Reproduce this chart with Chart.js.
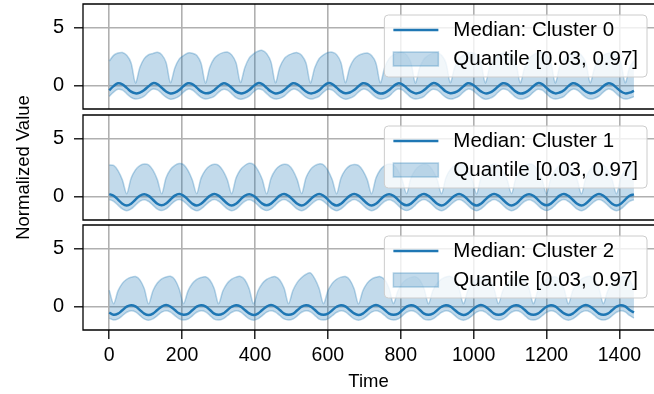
<!DOCTYPE html>
<html>
<head>
<meta charset="utf-8">
<script src="https://cdn.jsdelivr.net/npm/chart.js@4.4.1/dist/chart.umd.min.js"></script>
<style>
  html, body { margin: 0; padding: 0; background: #fff; }
  #wrap { position: relative; width: 654px; height: 394px; }
  #wrap canvas { position: absolute; left: 0; top: 0; }
</style>
</head>
<body>
<div id="wrap">
  <canvas id="c0" width="654" height="394"></canvas>
  <canvas id="c1" width="654" height="394"></canvas>
  <canvas id="c2" width="654" height="394"></canvas>
</div>
<script>
/* ── data (one row = one ~96 min cycle) ── */

const TIME = [
  0, 12, 24, 36, 48, 60, 72, 84,
  96, 108, 120, 132, 144, 156, 168, 180,
  192, 204, 216, 228, 240, 252, 264, 276,
  288, 300, 312, 324, 336, 348, 360, 372,
  384, 396, 408, 420, 432, 444, 456, 468,
  480, 492, 504, 516, 528, 540, 552, 564,
  576, 588, 600, 612, 624, 636, 648, 660,
  672, 684, 696, 708, 720, 732, 744, 756,
  768, 780, 792, 804, 816, 828, 840, 852,
  864, 876, 888, 900, 912, 924, 936, 948,
  960, 972, 984, 996, 1008, 1020, 1032, 1044,
  1056, 1068, 1080, 1092, 1104, 1116, 1128, 1140,
  1152, 1164, 1176, 1188, 1200, 1212, 1224, 1236,
  1248, 1260, 1272, 1284, 1296, 1308, 1320, 1332,
  1344, 1356, 1368, 1380, 1392, 1404, 1416, 1428,
  1440,
];

const X_TICKS = [0, 200, 400, 600, 800, 1000, 1200, 1400];
const Y_TICKS = [0, 5];
const CLUSTERS = ['Median: Cluster 0', 'Median: Cluster 1', 'Median: Cluster 2'];
const QUANT_LABEL = 'Quantile [0.03, 0.97]';

// cluster 0
const C0_MED = [
  -0.40, -0.04, 0.20, 0.12, -0.19, -0.51, -0.66, -0.59,
  -0.37, -0.05, 0.21, 0.13, -0.18, -0.50, -0.67, -0.60,
  -0.38, -0.03, 0.20, 0.14, -0.17, -0.49, -0.65, -0.61,
  -0.39, -0.06, 0.19, 0.12, -0.18, -0.51, -0.66, -0.59,
  -0.37, -0.04, 0.21, 0.13, -0.19, -0.50, -0.67, -0.60,
  -0.38, -0.05, 0.20, 0.12, -0.18, -0.50, -0.66, -0.60,
  -0.39, -0.04, 0.21, 0.14, -0.17, -0.49, -0.65, -0.59,
  -0.38, -0.05, 0.20, 0.13, -0.18, -0.51, -0.67, -0.61,
  -0.37, -0.04, 0.19, 0.12, -0.19, -0.50, -0.66, -0.60,
  -0.38, -0.05, 0.21, 0.13, -0.18, -0.50, -0.65, -0.59,
  -0.39, -0.06, 0.20, 0.12, -0.17, -0.49, -0.66, -0.60,
  -0.37, -0.04, 0.20, 0.14, -0.18, -0.51, -0.67, -0.61,
  -0.38, -0.05, 0.21, 0.13, -0.19, -0.50, -0.66, -0.59,
  -0.39, -0.04, 0.20, 0.12, -0.18, -0.50, -0.65, -0.60,
  -0.38, -0.05, 0.19, 0.13, -0.17, -0.49, -0.66, -0.60,
  -0.44,
];
const C0_LO = [
  -0.92, -0.56, -0.31, -0.38, -0.69, -1.01, -1.15, -1.08,
  -0.89, -0.54, -0.29, -0.36, -0.67, -0.99, -1.16, -1.09,
  -0.90, -0.55, -0.30, -0.37, -0.68, -1.00, -1.14, -1.07,
  -0.91, -0.57, -0.32, -0.38, -0.69, -1.02, -1.16, -1.08,
  -0.89, -0.54, -0.29, -0.36, -0.68, -1.00, -1.15, -1.09,
  -0.90, -0.55, -0.30, -0.37, -0.67, -0.99, -1.14, -1.07,
  -0.91, -0.56, -0.31, -0.38, -0.69, -1.01, -1.16, -1.08,
  -0.89, -0.55, -0.30, -0.37, -0.68, -1.00, -1.15, -1.09,
  -0.90, -0.54, -0.29, -0.36, -0.67, -1.00, -1.14, -1.08,
  -0.91, -0.56, -0.31, -0.38, -0.69, -1.01, -1.15, -1.07,
  -0.90, -0.55, -0.30, -0.37, -0.68, -0.99, -1.16, -1.09,
  -0.89, -0.54, -0.29, -0.36, -0.67, -1.00, -1.15, -1.08,
  -0.90, -0.56, -0.31, -0.38, -0.69, -1.02, -1.14, -1.07,
  -0.91, -0.55, -0.30, -0.37, -0.68, -1.00, -1.15, -1.08,
  -0.90, -0.55, -0.30, -0.37, -0.68, -1.00, -1.15, -1.08,
  -0.94,
];
const C0_HI = [
  2.10, 2.60, 2.80, 2.84, 2.60, 1.95, 0.24, 1.55,
  2.32, 2.65, 2.76, 2.86, 2.66, 1.98, 0.26, 1.52,
  2.28, 2.58, 2.80, 2.78, 2.60, 1.92, 0.23, 1.58,
  2.33, 2.66, 2.83, 2.88, 2.64, 1.96, 0.27, 1.54,
  2.36, 2.72, 2.95, 3.02, 2.75, 2.02, 0.25, 1.57,
  2.30, 2.61, 2.77, 2.83, 2.61, 1.94, 0.24, 1.53,
  2.31, 2.64, 2.84, 2.87, 2.66, 1.97, 0.26, 1.56,
  2.27, 2.59, 2.74, 2.80, 2.58, 1.93, 0.25, 1.55,
  2.32, 2.63, 2.79, 2.85, 2.63, 1.96, 0.23, 1.54,
  2.29, 2.60, 2.77, 2.81, 2.60, 1.94, 0.26, 1.56,
  2.31, 2.62, 2.80, 2.83, 2.62, 1.95, 0.24, 1.55,
  2.28, 2.60, 2.76, 2.80, 2.59, 1.93, 0.25, 1.53,
  2.32, 2.64, 2.81, 2.85, 2.64, 1.97, 0.24, 1.57,
  2.30, 2.61, 2.78, 2.82, 2.61, 1.95, 0.26, 1.54,
  2.29, 2.60, 2.77, 2.81, 2.60, 1.94, 0.25, 1.55,
  2.15,
];

// cluster 1
const C1_MED = [
  0.22, 0.08, -0.25, -0.60, -0.75, -0.60, -0.25, 0.08,
  0.21, 0.07, -0.26, -0.61, -0.74, -0.59, -0.24, 0.09,
  0.23, 0.08, -0.25, -0.60, -0.76, -0.60, -0.26, 0.07,
  0.22, 0.09, -0.24, -0.59, -0.75, -0.61, -0.25, 0.08,
  0.21, 0.08, -0.25, -0.60, -0.74, -0.60, -0.25, 0.09,
  0.22, 0.07, -0.26, -0.61, -0.75, -0.59, -0.24, 0.08,
  0.23, 0.08, -0.25, -0.60, -0.76, -0.60, -0.25, 0.07,
  0.22, 0.09, -0.24, -0.59, -0.75, -0.61, -0.26, 0.08,
  0.21, 0.08, -0.25, -0.60, -0.74, -0.60, -0.25, 0.09,
  0.22, 0.07, -0.26, -0.61, -0.75, -0.59, -0.24, 0.08,
  0.23, 0.08, -0.25, -0.60, -0.76, -0.60, -0.25, 0.07,
  0.22, 0.09, -0.24, -0.59, -0.75, -0.61, -0.26, 0.08,
  0.21, 0.08, -0.25, -0.60, -0.74, -0.60, -0.25, 0.09,
  0.22, 0.07, -0.26, -0.61, -0.75, -0.59, -0.24, 0.08,
  0.23, 0.08, -0.25, -0.60, -0.75, -0.60, -0.25, 0.08,
  0.20,
];
const C1_LO = [
  -0.25, -0.40, -0.72, -1.05, -1.20, -1.05, -0.72, -0.40,
  -0.26, -0.41, -0.73, -1.06, -1.19, -1.04, -0.71, -0.39,
  -0.24, -0.40, -0.72, -1.05, -1.21, -1.05, -0.73, -0.41,
  -0.25, -0.39, -0.71, -1.04, -1.20, -1.06, -0.72, -0.40,
  -0.26, -0.40, -0.72, -1.05, -1.19, -1.05, -0.72, -0.39,
  -0.25, -0.41, -0.73, -1.06, -1.20, -1.04, -0.71, -0.40,
  -0.24, -0.40, -0.72, -1.05, -1.21, -1.05, -0.72, -0.41,
  -0.25, -0.39, -0.71, -1.04, -1.20, -1.06, -0.73, -0.40,
  -0.26, -0.40, -0.72, -1.05, -1.19, -1.05, -0.72, -0.39,
  -0.25, -0.41, -0.73, -1.06, -1.20, -1.04, -0.71, -0.40,
  -0.24, -0.40, -0.72, -1.05, -1.21, -1.05, -0.72, -0.41,
  -0.25, -0.39, -0.71, -1.04, -1.20, -1.06, -0.73, -0.40,
  -0.26, -0.40, -0.72, -1.05, -1.19, -1.05, -0.72, -0.39,
  -0.25, -0.41, -0.73, -1.06, -1.20, -1.04, -0.71, -0.40,
  -0.24, -0.40, -0.72, -1.05, -1.20, -1.05, -0.72, -0.40,
  -0.27,
];
const C1_HI = [
  2.72, 2.68, 2.24, 1.44, 0.25, 1.58, 2.30, 2.66,
  2.80, 2.72, 2.27, 1.46, 0.24, 1.62, 2.33, 2.68,
  2.84, 2.74, 2.26, 1.43, 0.26, 1.59, 2.28, 2.63,
  2.77, 2.69, 2.23, 1.45, 0.25, 1.61, 2.31, 2.67,
  2.86, 2.76, 2.28, 1.47, 0.24, 1.58, 2.29, 2.64,
  2.78, 2.70, 2.25, 1.44, 0.26, 1.62, 2.32, 2.66,
  2.81, 2.72, 2.26, 1.45, 0.25, 1.60, 2.30, 2.65,
  2.76, 2.68, 2.24, 1.46, 0.24, 1.61, 2.31, 2.67,
  2.80, 2.71, 2.25, 1.44, 0.26, 1.59, 2.29, 2.64,
  2.77, 2.69, 2.23, 1.45, 0.25, 1.62, 2.32, 2.66,
  2.82, 2.73, 2.27, 1.46, 0.24, 1.60, 2.30, 2.65,
  2.78, 2.70, 2.25, 1.44, 0.26, 1.61, 2.31, 2.67,
  2.80, 2.71, 2.24, 1.45, 0.25, 1.59, 2.29, 2.64,
  2.77, 2.69, 2.26, 1.46, 0.24, 1.62, 2.32, 2.66,
  2.79, 2.70, 2.25, 1.45, 0.25, 1.60, 2.30, 2.65,
  2.75,
];

// cluster 2
const C2_MED = [
  -0.50, -0.70, -0.60, -0.30, 0.00, 0.13, 0.02, -0.28,
  -0.59, -0.71, -0.59, -0.29, 0.01, 0.14, 0.01, -0.29,
  -0.58, -0.69, -0.61, -0.31, 0.00, 0.12, 0.03, -0.27,
  -0.60, -0.70, -0.60, -0.30, -0.01, 0.13, 0.02, -0.28,
  -0.58, -0.71, -0.59, -0.29, 0.01, 0.14, 0.01, -0.29,
  -0.59, -0.69, -0.61, -0.31, 0.00, 0.12, 0.03, -0.27,
  -0.60, -0.70, -0.60, -0.30, -0.01, 0.13, 0.02, -0.28,
  -0.58, -0.71, -0.59, -0.29, 0.01, 0.14, 0.01, -0.29,
  -0.59, -0.69, -0.61, -0.31, 0.00, 0.12, 0.03, -0.27,
  -0.60, -0.70, -0.60, -0.30, -0.01, 0.13, 0.02, -0.28,
  -0.58, -0.71, -0.59, -0.29, 0.01, 0.14, 0.01, -0.29,
  -0.59, -0.69, -0.61, -0.31, 0.00, 0.12, 0.03, -0.27,
  -0.60, -0.70, -0.60, -0.30, -0.01, 0.13, 0.02, -0.28,
  -0.58, -0.71, -0.59, -0.29, 0.01, 0.14, 0.01, -0.29,
  -0.59, -0.70, -0.60, -0.30, 0.00, 0.13, 0.02, -0.28,
  -0.50,
];
const C2_LO = [
  -0.98, -1.15, -1.05, -0.78, -0.48, -0.35, -0.45, -0.75,
  -1.05, -1.16, -1.04, -0.77, -0.47, -0.34, -0.46, -0.76,
  -1.04, -1.14, -1.06, -0.79, -0.48, -0.36, -0.44, -0.74,
  -1.06, -1.15, -1.05, -0.78, -0.49, -0.35, -0.45, -0.75,
  -1.04, -1.16, -1.04, -0.77, -0.47, -0.34, -0.46, -0.76,
  -1.05, -1.14, -1.06, -0.79, -0.48, -0.36, -0.44, -0.74,
  -1.06, -1.15, -1.05, -0.78, -0.49, -0.35, -0.45, -0.75,
  -1.04, -1.16, -1.04, -0.77, -0.47, -0.34, -0.46, -0.76,
  -1.05, -1.14, -1.06, -0.79, -0.48, -0.36, -0.44, -0.74,
  -1.06, -1.15, -1.05, -0.78, -0.49, -0.35, -0.45, -0.75,
  -1.04, -1.16, -1.04, -0.77, -0.47, -0.34, -0.46, -0.76,
  -1.05, -1.14, -1.06, -0.79, -0.48, -0.36, -0.44, -0.74,
  -1.06, -1.15, -1.05, -0.78, -0.49, -0.35, -0.45, -0.75,
  -1.04, -1.16, -1.04, -0.77, -0.47, -0.34, -0.46, -0.76,
  -1.05, -1.15, -1.05, -0.78, -0.48, -0.35, -0.45, -0.75,
  -0.98,
];
const C2_HI = [
  1.40, 0.25, 1.35, 2.00, 2.35, 2.52, 2.58, 2.30,
  1.55, 0.24, 1.37, 2.03, 2.38, 2.55, 2.60, 2.32,
  1.52, 0.26, 1.33, 1.98, 2.33, 2.50, 2.56, 2.28,
  1.56, 0.25, 1.36, 2.01, 2.36, 2.53, 2.59, 2.31,
  1.54, 0.24, 1.34, 1.99, 2.34, 2.51, 2.57, 2.29,
  1.57, 0.26, 1.38, 2.08, 2.50, 2.78, 2.90, 2.40,
  1.55, 0.25, 1.35, 2.00, 2.35, 2.53, 2.58, 2.30,
  1.53, 0.24, 1.36, 2.02, 2.37, 2.52, 2.57, 2.31,
  1.56, 0.26, 1.34, 1.99, 2.34, 2.51, 2.56, 2.29,
  1.54, 0.25, 1.37, 2.01, 2.36, 2.54, 2.59, 2.32,
  1.55, 0.24, 1.35, 2.00, 2.35, 2.52, 2.58, 2.30,
  1.53, 0.26, 1.36, 2.02, 2.37, 2.53, 2.57, 2.28,
  1.56, 0.25, 1.34, 1.99, 2.34, 2.51, 2.56, 2.31,
  1.54, 0.24, 1.37, 2.01, 2.36, 2.54, 2.59, 2.30,
  1.55, 0.25, 1.35, 2.00, 2.35, 2.52, 2.58, 2.30,
  1.50,
];

/* ── style ── */

const BLUE = '#1f77b4';
const BAND = 'rgba(31,119,180,0.27)';
const EDGE = 'rgba(31,119,180,0.30)';
const GRID = '#b0b0b0';
const FAMILY = "'Liberation Sans', Arial, Helvetica, sans-serif";
const X_MIN = -72, X_MAX = 1495;
const Y_MIN = -2, Y_MAX = 7;

// chart area top/bottom of each panel (px from top of the 394px figure)
const PANEL_BOX = [[4, 109], [115, 220], [225, 330]];

const toXY = ys => ys.map((y, i) => ({ x: TIME[i], y }));

const framePlugin = {
  id: 'frame',
  afterDatasetsDraw(chart) {
    const { ctx, chartArea: a } = chart;
    ctx.save();
    ctx.strokeStyle = '#000';
    ctx.lineWidth = 1.3;
    ctx.beginPath();
    ctx.moveTo(a.right + 2, a.top);
    ctx.lineTo(a.left, a.top);
    ctx.lineTo(a.left, a.bottom);
    ctx.lineTo(a.right + 2, a.bottom);
    ctx.stroke();
    ctx.restore();
  },
};

// matplotlib-style legend box in the upper right, drawn over the data
const boxLegend = {
  id: 'boxLegend',
  afterDatasetsDraw(chart) {
    const { ctx, chartArea: a } = chart;
    const ds = chart.data.datasets;
    ctx.save();
    ctx.font = "20.5px " + FAMILY;
    const textW = Math.max(ctx.measureText(ds[0].label).width, ctx.measureText(ds[1].label).width);
    const w = 9 + 45 + 15 + textW + 9, h = 62;
    const right = a.right - 7, left = right - w, top = a.top + 11;
    ctx.beginPath();
    if (ctx.roundRect) ctx.roundRect(left, top, w, h, 4); else ctx.rect(left, top, w, h);
    ctx.fillStyle = 'rgba(255,255,255,0.8)';
    ctx.fill();
    ctx.strokeStyle = '#cccccc';
    ctx.lineWidth = 1;
    ctx.stroke();

    const hx = left + 9, tx = hx + 45 + 15;
    const y1 = top + 15, y2 = top + 44;
    ctx.strokeStyle = ds[0].borderColor;
    ctx.lineWidth = 2.5;
    ctx.beginPath(); ctx.moveTo(hx, y1); ctx.lineTo(hx + 45, y1); ctx.stroke();
    ctx.fillStyle = ds[1].backgroundColor;
    ctx.fillRect(hx, y2 - 7, 45, 14);
    ctx.strokeStyle = ds[1].borderColor;
    ctx.lineWidth = 1.5;
    ctx.strokeRect(hx, y2 - 7, 45, 14);

    ctx.fillStyle = '#000';
    ctx.textBaseline = 'middle';
    ctx.fillText(ds[0].label, tx, y1);
    ctx.fillText(ds[1].label, tx, y2);
    ctx.restore();
  },
};

function makePanel(idx, med, lo, hi) {
  const last = idx === 2;
  const [top, bottom] = PANEL_BOX[idx];
  return new Chart(document.getElementById('c' + idx), {
    type: 'line',
    data: {
      datasets: [
        { label: CLUSTERS[idx], data: toXY(med), borderColor: BLUE, borderWidth: 2.5,
          pointRadius: 0, tension: 0.4, fill: false },
        { label: QUANT_LABEL, data: toXY(hi), borderColor: EDGE, backgroundColor: BAND,
          borderWidth: 1.5, pointRadius: 0, tension: 0.3, fill: '+1' },
        { label: '', data: toXY(lo), borderColor: EDGE, borderWidth: 1.5,
          pointRadius: 0, tension: 0.4, fill: false },
      ],
    },
    options: {
      responsive: false,
      animation: false,
      events: [],
      layout: { padding: { top, bottom: last ? 0 : 394 - bottom, left: 0, right: 0 } },
      plugins: { legend: { display: false }, tooltip: { enabled: false } },
      scales: {
        x: {
          type: 'linear', min: X_MIN, max: X_MAX,
          afterBuildTicks: s => { s.ticks = X_TICKS.map(v => ({ value: v })); },
          afterFit: s => { s.height = last ? 394 - bottom : 0; s.paddingLeft = 0; s.paddingRight = 0; },
          grid: { color: GRID, lineWidth: 1.6, drawTicks: last, tickLength: 9, tickColor: '#000', tickWidth: 1.3 },
          border: { display: false },
          ticks: { display: last, color: '#000', padding: 5, maxRotation: 0, callback: v => String(v),
                   font: { size: 19.5, family: FAMILY } },
          title: { display: last, text: 'Time', color: '#000', padding: { top: 0, bottom: 1 },
                   font: { size: 18.5, family: FAMILY } },
        },
        y: {
          type: 'linear', min: Y_MIN, max: Y_MAX,
          afterBuildTicks: s => { s.ticks = Y_TICKS.map(v => ({ value: v })); },
          afterFit: s => { s.width = 83; s.paddingTop = 0; s.paddingBottom = 0; },
          grid: { color: GRID, lineWidth: 1.6, tickLength: 9, tickColor: '#000', tickWidth: 1.3 },
          border: { display: false },
          ticks: { color: '#000', padding: 10, font: { size: 20, family: FAMILY } },
          title: { display: idx === 1, text: 'Normalized Value', color: '#000',
                   padding: { top: 13, bottom: 0 }, font: { size: 18.5, family: FAMILY } },
        },
      },
    },
    plugins: [framePlugin, boxLegend],
  });
}

makePanel(0, C0_MED, C0_LO, C0_HI);
makePanel(1, C1_MED, C1_LO, C1_HI);
makePanel(2, C2_MED, C2_LO, C2_HI);
</script>
</body>
</html>
